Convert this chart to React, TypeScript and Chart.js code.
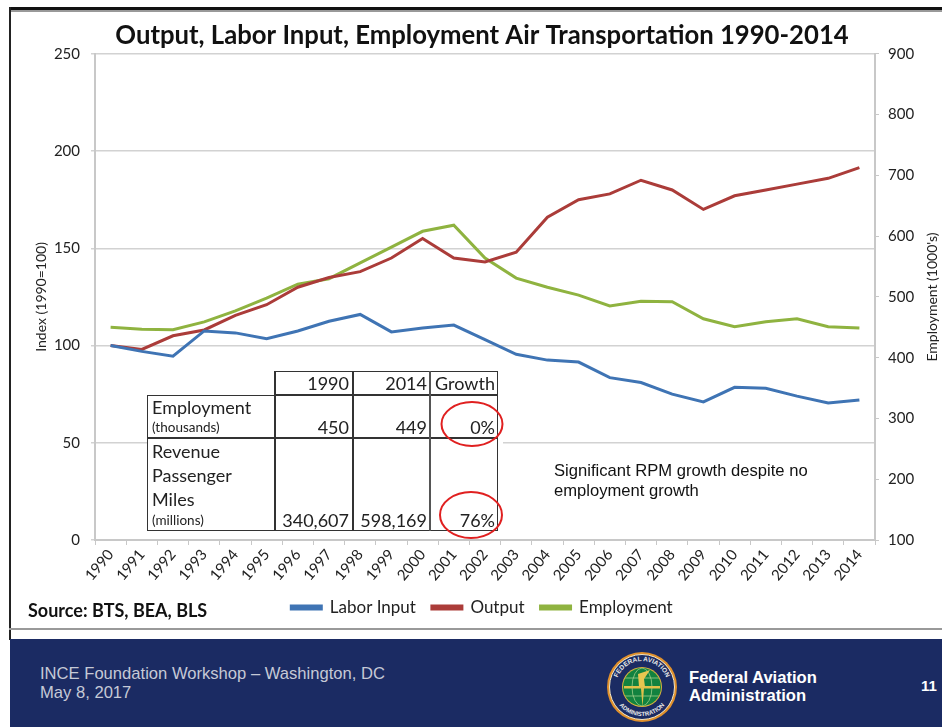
import React, { useEffect, useRef } from "react";
import { Chart, registerables } from "chart.js";

Chart.register(...registerables);

const years = ["1990","1991","1992","1993","1994","1995","1996","1997","1998","1999","2000","2001","2002","2003","2004","2005","2006","2007","2008","2009","2010","2011","2012","2013","2014"];
const laborInput = [100,97,94.5,107.5,106.5,103.5,107.5,112.5,116,107,109,110.5,103,95.5,92.5,91.5,83.5,81,75,71,78.5,78,74,70.5,72];
const output = [100,98,105,108,115.5,121,130,135,138,145,155,145,143,148,166,175,178,185,180,170,177,180,183,186,191.5];
const employment = [450,447,446,459,477,498,521,530,556,582,608,618,564,531,516,503,485,493,492,464,451,459,464,451,449];

const chartTitle = "Output, Labor Input, Employment Air Transportation 1990-2014";
const FONT = "Lato, 'Open Sans', sans-serif";
const ARIAL = "'Liberation Sans', Arial, sans-serif";

const tableRows: [number, number, string, number][] = [
  [274, 352, "1990", 383],
  [352, 430, "2014", 383],
  [430, 498, "Growth", 383],
  [274, 352, "450", 427],
  [352, 430, "449", 427],
  [430, 498, "0%", 427],
  [274, 352, "340,607", 520],
  [352, 430, "598,169", 520],
  [430, 498, "76%", 520],
];
const rowLabels: [string, number, number][] = [
  ["Employment", 407, 18],
  ["(thousands)", 427, 13.5],
  ["Revenue", 451, 18],
  ["Passenger", 475, 18],
  ["Miles", 499, 18],
  ["(millions)", 520, 13.5],
];

function abs(left: number, top: number, width: number, height: number, extra: React.CSSProperties = {}): React.CSSProperties {
  return { position: "absolute", left, top, width, height, ...extra };
}

export default function App() {
  const ref = useRef<HTMLCanvasElement>(null);
  useEffect(() => {
    document.body.style.margin = "0";
    const chart = new Chart(ref.current!, {
      type: "line",
      data: {
        labels: years,
        datasets: [
          { label: "Labor Input", data: laborInput, borderColor: "#3f74b4", backgroundColor: "#3f74b4", borderWidth: 3, pointRadius: 0, yAxisID: "y", tension: 0 },
          { label: "Output", data: output, borderColor: "#ab3c39", backgroundColor: "#ab3c39", borderWidth: 3, pointRadius: 0, yAxisID: "y", tension: 0 },
          { label: "Employment", data: employment, borderColor: "#8fb340", backgroundColor: "#8fb340", borderWidth: 3, pointRadius: 0, yAxisID: "y1", tension: 0 },
        ],
      },
      options: {
        responsive: false,
        animation: false,
        layout: { padding: { top: 0, bottom: 10, left: 0, right: 0 } },
        plugins: {
          tooltip: { enabled: false },
          title: { display: true, text: chartTitle, color: "#111", font: { family: FONT, size: 25.7, weight: "bold" }, padding: { top: 5, bottom: 3 } },
          legend: {
            position: "bottom",
            labels: { boxWidth: 30, boxHeight: 3, color: "#222", padding: 16, font: { family: FONT, size: 17 } },
          },
        },
        scales: {
          x: {
            offset: true,
            grid: { drawOnChartArea: false, color: "#c8c8c8", tickLength: 5, offset: true },
            border: { color: "#c8c8c8", width: 2 },
            ticks: { autoSkip: false, minRotation: 50, maxRotation: 50, color: "#222", padding: 1, font: { family: FONT, size: 15 } },
            afterFit: (s: any) => { s.height = 43; },
          },
          y: {
            position: "left",
            min: 0, max: 250,
            ticks: { stepSize: 50, color: "#222", padding: 11, font: { family: FONT, size: 15 } },
            grid: { color: "#d2d2d2", lineWidth: 1.5, tickLength: 4 },
            border: { color: "#c8c8c8", width: 2 },
            title: { display: true, text: "Index (1990=100)", color: "#222", font: { family: FONT, size: 14 }, padding: { top: 11, bottom: 0 } },
            afterFit: (s: any) => { s.width = 73; },
          },
          y1: {
            position: "right",
            min: 100, max: 900,
            ticks: { stepSize: 100, color: "#222", padding: 9, font: { family: FONT, size: 15 } },
            grid: { drawOnChartArea: false, color: "#c8c8c8", tickLength: 4 },
            border: { color: "#c8c8c8", width: 2 },
            afterFit: (s: any) => { s.width = 67; },
          },
        },
      },
    } as any);
    return () => chart.destroy();
  }, []);

  return (
    <div style={abs(0, 0, 942, 727, { background: "#fff", overflow: "hidden" })}>
      <div style={abs(9, 7, 933, 3, { background: "#111" })} />
      <div style={abs(9, 10, 933, 2, { background: "#999" })} />
      <div style={abs(9, 7, 2, 633, { background: "#222" })} />
      <canvas ref={ref} width={920} height={621} style={{ position: "absolute", left: 22, top: 15 }} />

      <div style={abs(861, 289, 140, 16, { transform: "rotate(-90deg)", font: `14px ${FONT}`, color: "#222", textAlign: "center", whiteSpace: "nowrap" })}>Employment (1000's)</div>

      {/* Table */}
      <div style={abs(147, 395, 356, 144, { background: "#fff" })} />
      <div style={abs(274, 371, 224, 24, { background: "#fff", border: "1.5px solid #333", boxSizing: "border-box" })} />
      <div style={abs(147, 395, 351, 136, { border: "1.5px solid #333", boxSizing: "border-box" })} />
      <div style={abs(147, 437, 351, 2, { background: "#333" })} />
      <div style={abs(274, 371, 1.5, 160, { background: "#333" })} />
      <div style={abs(352, 371, 1.5, 160, { background: "#333" })} />
      <div style={abs(429, 371, 2, 160, { background: "#555" })} />
      {tableRows.map(([l, r, t, cy]) => (
        <div key={t} style={abs(l, cy - 10, r - l - 3, 20, { textAlign: "right", font: `18px/20px ${FONT}`, color: "#222", whiteSpace: "nowrap" })}>{t}</div>
      ))}
      {rowLabels.map(([t, cy, size]) => (
        <div key={t} style={abs(152, cy - 10, 120, 20, { font: `${size}px/20px ${FONT}`, color: "#222", whiteSpace: "nowrap" })}>{t}</div>
      ))}
      <svg style={abs(430, 390, 80, 160)} viewBox="430 390 80 160">
        <ellipse cx="472" cy="424" rx="30.5" ry="22" fill="none" stroke="#e02020" strokeWidth="2" />
        <ellipse cx="471" cy="515" rx="31" ry="23" fill="none" stroke="#e02020" strokeWidth="2" />
      </svg>

      <div style={abs(554, 461, 320, 40, { font: `16.6px/20px ${ARIAL}`, color: "#111", whiteSpace: "nowrap" })}>
        Significant RPM growth despite no<br />employment growth
      </div>

      <div style={abs(28, 599, 240, 22, { font: `bold 18px/22px ${FONT}`, color: "#111", whiteSpace: "nowrap" })}>Source: BTS, BEA, BLS</div>

      {/* Footer */}
      <div style={abs(9, 628, 933, 2, { background: "#999" })} />
      <div style={abs(10, 639, 932, 88, { background: "#1b2b63" })} />
      <div style={abs(40, 664, 420, 40, { font: `16.6px/19px ${ARIAL}`, color: "#c5c9d6", whiteSpace: "nowrap" })}>
        INCE Foundation Workshop – Washington, DC<br />May 8, 2017
      </div>
      <div style={abs(689, 669, 180, 40, { font: `bold 16.6px/18px ${ARIAL}`, color: "#fff", whiteSpace: "nowrap" })}>
        Federal Aviation<br />Administration
      </div>
      <div style={abs(921, 677, 20, 20, { font: `bold 15px/18px ${ARIAL}`, color: "#fff" })}>11</div>
      <svg style={abs(606, 651, 72, 72)} viewBox="0 0 72 72">
        <defs>
          <path id="topArc" d="M 10 36 A 26 26 0 0 1 62 36" />
          <path id="botArc" d="M 7 36 A 29 29 0 0 0 65 36" />
          <clipPath id="globe"><circle cx="36" cy="36" r="19" /></clipPath>
        </defs>
        <circle cx="36" cy="36" r="35" fill="#e0902c" />
        <circle cx="36" cy="36" r="32.5" fill="#1b2b63" stroke="#f0e6c8" strokeWidth="1" />
        <text fontSize="6.5" fontWeight="bold" fill="#e8e8e8" fontFamily={ARIAL} textAnchor="middle">
          <textPath href="#topArc" startOffset="50%">FEDERAL AVIATION</textPath>
        </text>
        <text fontSize="6" fontWeight="bold" fill="#e8e8e8" fontFamily={ARIAL} textAnchor="middle">
          <textPath href="#botArc" startOffset="50%">ADMINISTRATION</textPath>
        </text>
        <circle cx="36" cy="36" r="20" fill="#d7b23c" />
        <circle cx="36" cy="36" r="19" fill="#12823f" />
        <g clipPath="url(#globe)" stroke="#9fce8a" strokeWidth="0.8" fill="none">
          <ellipse cx="36" cy="36" rx="10" ry="19" />
          <path d="M17 27 H55 M17 45 H55" />
        </g>
        <path d="M18 35 H54 V37.5 H38 L36.5 56 L35 37.5 H18 Z" fill="#e0c04a" />
        <path d="M33 36 L32 23 L44 19 L38 28 L39 36 Z" fill="#e6c650" />
      </svg>
    </div>
  );
}
